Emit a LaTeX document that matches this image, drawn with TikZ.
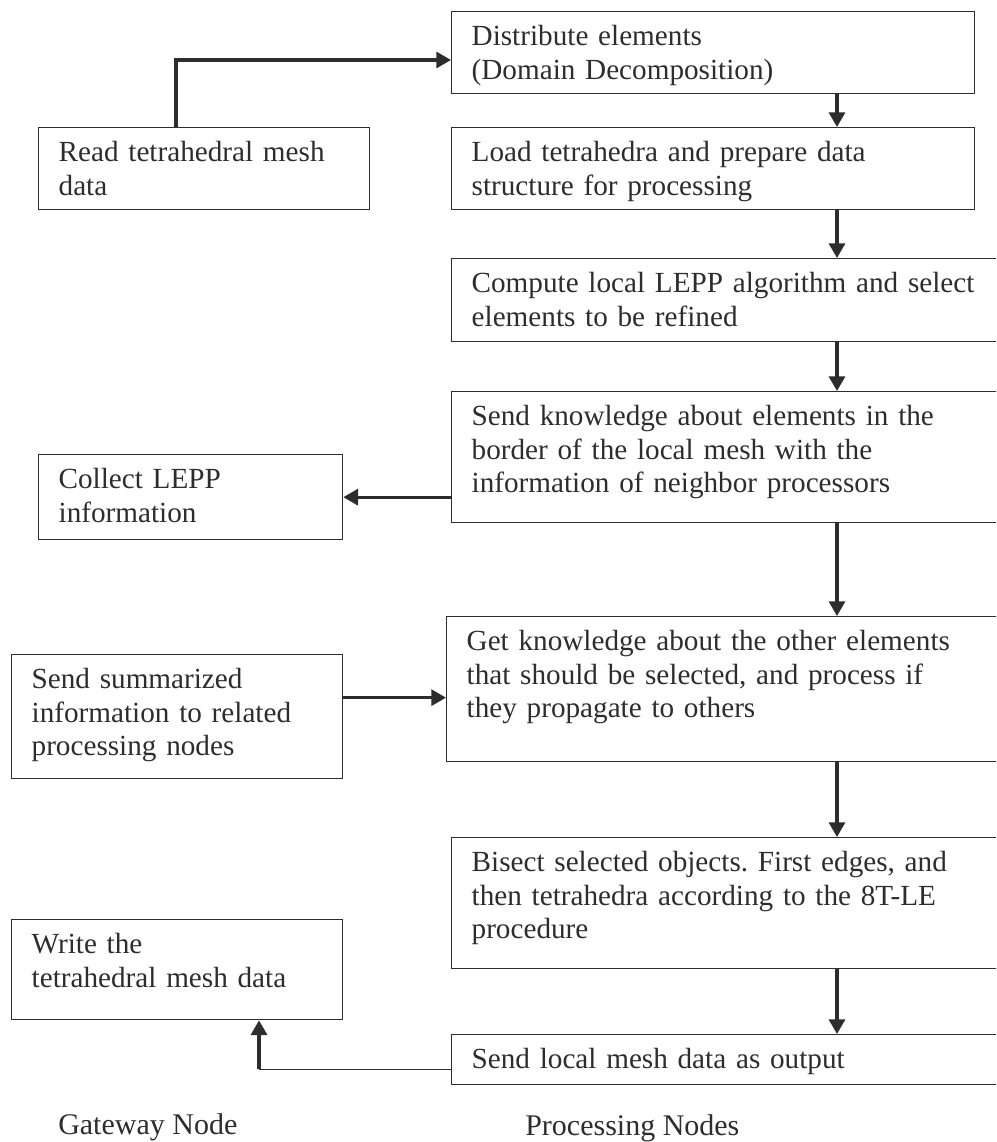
\documentclass[tikz,border=0pt]{standalone}
\usepackage{fontspec}
\setmainfont{Liberation Serif}
\frenchspacing
\usetikzlibrary{arrows.meta,positioning,calc}
\definecolor{ink}{RGB}{45,45,48}

\begin{document}
\begin{tikzpicture}[
    x=0.75pt, y=-0.75pt,
    stepbox/.style={draw=ink, line width=1pt, anchor=north west, align=left, text=ink, font=\fontsize{21.9}{25}\selectfont, inner xsep=15pt, inner ysep=0pt, text height=25.5pt},
    flow/.style={-{Triangle[width=12pt,length=11pt]}, draw=ink, line width=2.4pt},
    caption/.style={anchor=base west, text=ink, font=\fontsize{22.5}{25}\selectfont, inner sep=0pt}
]
\useasboundingbox (0,0) rectangle (996,1142);
\clip (0,0) rectangle (996,1142);

% processing nodes
\node[stepbox, text width=362.25pt, text depth=36pt] (dist) at (451,11) {Distribute elements\\(Domain Decomposition)};
\node[stepbox, text width=362.25pt, text depth=36pt] (load) at (451,127) {Load tetrahedra and prepare data\\structure for processing};
\node[stepbox, text width=389.25pt, text depth=36.75pt] (lepp) at (451,258) {Compute local LEPP algorithm and select\\elements to be refined};
\node[stepbox, text width=389.25pt, text depth=72.75pt] (border) at (451,391) {Send knowledge about elements in the\\border of the local mesh with the\\information of neighbor processors};
\node[stepbox, text width=393pt, text depth=83.25pt] (other) at (446,616) {Get knowledge about the other elements\\that should be selected, and process if\\they propagate to others};
\node[stepbox, text width=389.25pt, text depth=72.75pt] (bisect) at (451,837) {Bisect selected objects. First edges, and\\then tetrahedra according to the 8T-LE\\procedure};
\node[stepbox, text width=389.25pt, text depth=12pt] (output) at (451,1034) {Send local mesh data as output};

% gateway node
\node[stepbox, text width=218.25pt, text depth=36pt] (readmesh) at (38,127) {Read tetrahedral mesh\\data};
\node[stepbox, text width=198pt, text depth=38.25pt] (collect) at (38,454) {Collect LEPP\\information};
\node[stepbox, text width=218.25pt, text depth=67.5pt] (summary) at (11,654) {Send summarized\\information to related\\processing nodes};
\node[stepbox, text width=218.25pt, text depth=49.5pt] (writemesh) at (11,919) {Write the\\tetrahedral mesh data};

\node[caption] (gw) at (58,1134) {Gateway Node};
\node[caption] (pn) at (525,1135) {Processing Nodes};

% arrows
\coordinate (spine) at (837,0);
\foreach \a/\b in {dist/load,load/lepp,lepp/border,border/other,other/bisect,bisect/output}
    \draw[flow] (\a.south -| spine) -- (\b.north -| spine);

\draw[flow] ($(readmesh.north west)+(138,0)$) |- ($(dist.north west)+(0,49)$);
\draw[flow] (border.west |- collect.east) -- (collect.east);
\draw[flow] ($(summary.east)+(0,-19)$) coordinate (s) -- (s -| other.west);

\coordinate (turn) at ($(writemesh.south west)+(248,49)$);
\draw[draw=ink, line width=1pt] (output.west |- turn) -- (turn);
\draw[flow] (turn) -- (turn |- writemesh.south);

\end{tikzpicture}
\end{document}
